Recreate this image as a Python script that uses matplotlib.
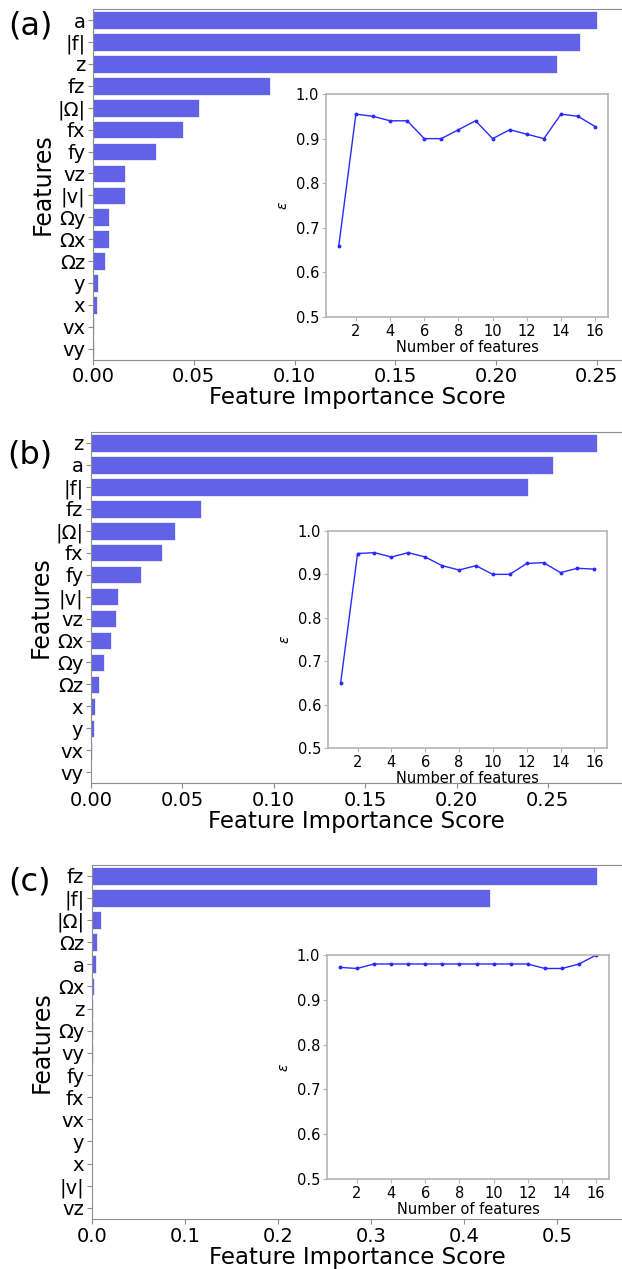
import numpy as np
import matplotlib
matplotlib.use("Agg")
import matplotlib.pyplot as plt

# Feature importances for the three cases, sorted as in the ranking
feat_a = ['a', '|f|', 'z', 'fz', '|Ω|', 'fx', 'fy', 'vz', '|v|', 'Ωy', 'Ωx', 'Ωz', 'y', 'x', 'vx', 'vy']
imp_a = [0.250, 0.2415, 0.230, 0.088, 0.0526, 0.0449, 0.0311, 0.0161, 0.0160, 0.0081,
         0.0079, 0.0059, 0.0026, 0.0020, 0.0004, 0.0003]

feat_b = ['z', 'a', '|f|', 'fz', '|Ω|', 'fx', 'fy', '|v|', 'vz', 'Ωx', 'Ωy', 'Ωz', 'x', 'y', 'vx', 'vy']
imp_b = [0.2767, 0.2528, 0.2393, 0.060, 0.0461, 0.0391, 0.0276, 0.0148, 0.0137, 0.0109,
         0.0072, 0.0046, 0.0022, 0.0017, 0.0004, 0.0002]

feat_c = ['fz', '|f|', '|Ω|', 'Ωz', 'a', 'Ωx', 'z', 'Ωy', 'vy', 'fy', 'fx', 'vx', 'y', 'x', '|v|', 'vz']
imp_c = [0.543, 0.4285, 0.0094, 0.0055, 0.0043, 0.0017, 0.0009, 0.0008, 0.0006, 0.0005,
         0.0003, 0.0002, 0.0001, 0.0001, 0.0, 0.0]

# Accuracy vs number of features kept
n_feat = list(range(1, 17))
eps_a = [0.66, 0.955, 0.95, 0.94, 0.94, 0.90, 0.90, 0.92, 0.94, 0.90, 0.92, 0.91, 0.90, 0.955, 0.95, 0.927]
eps_b = [0.65, 0.948, 0.95, 0.94, 0.95, 0.94, 0.92, 0.91, 0.92, 0.90, 0.90, 0.925, 0.927, 0.904, 0.914, 0.912]
eps_c = [0.9725, 0.97, 0.98, 0.98, 0.98, 0.98, 0.98, 0.98, 0.98, 0.98, 0.98, 0.98, 0.97, 0.97, 0.98, 1.0]

panels = [
    ('(a)', feat_a, imp_a, eps_a, [0.1495, 0.7167, 0.8505, 0.2760], [0.5241, 0.7502, 0.4534, 0.1757], 1 - 26 / 1269),
    ('(b)', feat_b, imp_b, eps_b, [0.1463, 0.3828, 0.8537, 0.2768], [0.5273, 0.4106, 0.4486, 0.1710], 1 - 455 / 1269),
    ('(c)', feat_c, imp_c, eps_c, [0.1479, 0.0394, 0.8521, 0.2793], [0.5257, 0.0709, 0.4534, 0.1765], 1 - 882 / 1269),
]

bar_color = '#6262E6'
spine_main = '#8c8c8c'
spine_inset = '#b4b4b4'

fig = plt.figure(figsize=(6.22, 12.69), dpi=100)

for tag, feats, imps, eps, main_pos, inset_pos, tag_y in panels:
    ax = fig.add_axes(main_pos)
    pos = np.arange(len(feats))
    ax.barh(pos, imps, height=0.8, color=bar_color, edgecolor='white', linewidth=0.5)
    ax.set_ylim(len(feats) - 0.5, -0.5)
    ax.set_yticks(pos)
    ax.set_yticklabels(feats)
    ax.margins(x=0.05)
    ax.tick_params(labelsize=14, color=spine_main, length=3.5, pad=2)
    for side in ['top', 'left', 'bottom']:
        ax.spines[side].set_color(spine_main)
    ax.spines['right'].set_visible(False)
    ax.set_xlabel('Feature Importance Score', fontsize=16.5, labelpad=0)
    ax.set_ylabel('Features', fontsize=17, labelpad=2)
    fig.text(30 / 622, tag_y, tag, fontsize=23, ha='center', va='center')

    # accuracy inset
    ins = fig.add_axes(inset_pos)
    ins.plot(n_feat, eps, color='#2a2aff', linewidth=1.0, marker='o', markersize=1.8)
    ins.set_ylim(0.5, 1.0)
    ins.set_yticks([0.5, 0.6, 0.7, 0.8, 0.9, 1.0])
    ins.set_xticks(range(2, 17, 2))
    ins.tick_params(labelsize=10.5, color=spine_inset, length=3, pad=2)
    for s in ins.spines.values():
        s.set_color(spine_inset)
        s.set_linewidth(1.2)
    ins.set_xlabel('Number of features', fontsize=10.5, labelpad=1)
    ins.set_ylabel(r'$\epsilon$', fontsize=10, labelpad=4)

fig.savefig('out.png', dpi=100)
